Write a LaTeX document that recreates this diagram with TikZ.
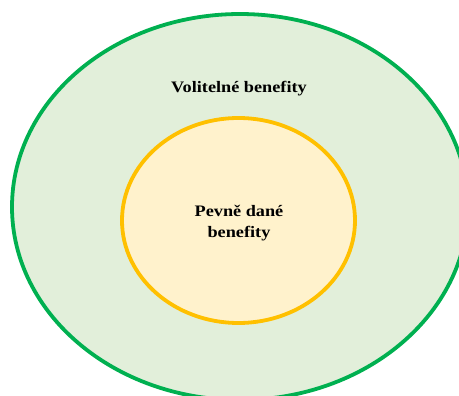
\documentclass[tikz,border=0pt]{standalone}
\usepackage{fontspec}
\setmainfont{Liberation Serif}
\newfontfamily\labelfont[FakeStretch=1.14]{Liberation Serif}
\usetikzlibrary{shapes.geometric}
\definecolor{outerline}{HTML}{00B050}
\definecolor{outerfill}{HTML}{E2EFDA}
\definecolor{innerline}{HTML}{FFC000}
\definecolor{innerfill}{HTML}{FFF2CC}
\tikzset{
  ring/.style={ellipse, inner sep=0pt, outer sep=0pt, line width=3.8pt},
  lbl/.style={font=\labelfont\bfseries\fontsize{16}{20}\selectfont, text=black, inner sep=0pt, align=center}
}
\begin{document}
\begin{tikzpicture}[x=1pt,y=-1pt]
\useasboundingbox (0,0) rectangle (459,396);
\clip (0,0) rectangle (459,396);
\node[ring, draw=outerline, fill=outerfill, minimum width=456pt, minimum height=386pt] (outer) at (240,207) {};
\node[ring, draw=innerline, fill=innerfill, minimum width=233pt, minimum height=205pt] (inner) at (238.5,220.5) {};
\node[lbl, anchor=base] (vol) at (239,93) {Volitelné benefity};
\node[lbl, anchor=base] (pev) at (239,217) {Pevně dané};
\node[lbl, anchor=base] (ben) at (239,238) {benefity};
\end{tikzpicture}
\end{document}
